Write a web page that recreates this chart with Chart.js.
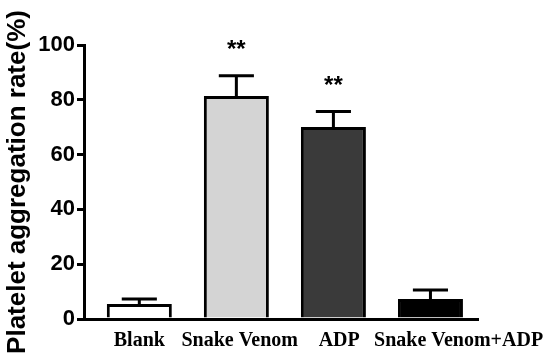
<!DOCTYPE html>
<html>
<head>
<meta charset="utf-8">
<script src="https://cdn.jsdelivr.net/npm/chart.js@4"></script>
<style>
  html, body { margin: 0; padding: 0; background: #fff; }
  #wrap { width: 550px; height: 358px; }
</style>
</head>
<body>
<div id="wrap"><canvas id="aggChart" width="550" height="358"></canvas></div>
<script>
const groups = ['Blank', 'Snake Venom', 'ADP', 'Snake Venom+ADP'];
const meanRate = [5.5, 81.4, 70.1, 7.3];
const errRate = [1.8, 7.4, 5.6, 3.3];
const marks = ['', '**', '**', ''];
const barColors = ['#ffffff', '#d4d4d4', '#3a3a3a', '#000000'];
const yTicks = [0, 20, 40, 60, 80, 100];

// the original figure's category labels sit a bit right of their bars
const labelNudge = [0, 0.035, 0.06, 0.29];

// draws upper error bars and significance stars
const errorBarPlugin = {
    id: 'errorBars',
    afterDatasetsDraw(chart) {
        const ctx = chart.ctx;
        const yScale = chart.scales.y;
        const meta = chart.getDatasetMeta(0);
        ctx.save();
        ctx.strokeStyle = '#000';
        ctx.lineWidth = 3;
        meta.data.forEach((bar, i) => {
            const x = bar.x;
            const yTop = yScale.getPixelForValue(meanRate[i]);
            const yCap = yScale.getPixelForValue(meanRate[i] + errRate[i]);
            const half = bar.width * 0.27;
            ctx.beginPath();
            ctx.moveTo(x, yTop);
            ctx.lineTo(x, yCap);
            ctx.moveTo(x - half, yCap);
            ctx.lineTo(x + half, yCap);
            ctx.stroke();
            if (marks[i]) {
                ctx.fillStyle = '#000';
                ctx.font = 'bold 24px "Liberation Sans", Arial, sans-serif';
                ctx.textAlign = 'center';
                ctx.textBaseline = 'middle';
                ctx.fillText(marks[i], x, yCap - 25);
            }
        });
        ctx.restore();
    }
};

new Chart(document.getElementById('aggChart'), {
    type: 'bar',
    data: {
        datasets: [{
            data: meanRate.map((v, i) => ({ x: i, y: v })),
            backgroundColor: barColors,
            borderColor: '#000',
            borderWidth: 3,
            barPercentage: 0.67,
            categoryPercentage: 1.0
        }]
    },
    options: {
        responsive: false,
        animation: false,
        layout: { padding: { top: 45, right: 72, left: 0, bottom: 0 } },
        plugins: {
            legend: { display: false },
            tooltip: { enabled: false }
        },
        scales: {
            x: {
                type: 'linear',
                min: -0.57,
                max: 3.49,
                offset: false,
                afterFit: s => { s.height = 39; },
                afterBuildTicks: s => { s.ticks = groups.map((g, i) => ({ value: i + labelNudge[i] })); },
                grid: { display: false },
                border: { color: '#000', width: 3 },
                ticks: {
                    color: '#000',
                    padding: 2,
                    maxRotation: 0,
                    autoSkip: false,
                    callback: v => groups[Math.round(v)],
                    font: { family: '"Liberation Serif", "Times New Roman", serif', size: 20, weight: 'bold' }
                }
            },
            y: {
                min: 0,
                max: 100,
                afterFit: s => { s.width = 84; },
                afterBuildTicks: s => { s.ticks = yTicks.map(v => ({ value: v })); },
                grid: { drawOnChartArea: false, drawTicks: true, tickLength: 7, lineWidth: 3, color: '#000' },
                border: { color: '#000', width: 3 },
                ticks: {
                    color: '#000',
                    padding: 2,
                    font: { family: '"Liberation Sans", Arial, sans-serif', size: 22, weight: 'bold' }
                },
                title: {
                    display: true,
                    text: 'Platelet aggregation rate(%)',
                    color: '#000',
                    padding: { top: 2, bottom: 0 },
                    font: { family: '"Liberation Sans", Arial, sans-serif', size: 26, weight: 'bold' }
                }
            }
        }
    },
    plugins: [errorBarPlugin]
});
</script>
</body>
</html>
